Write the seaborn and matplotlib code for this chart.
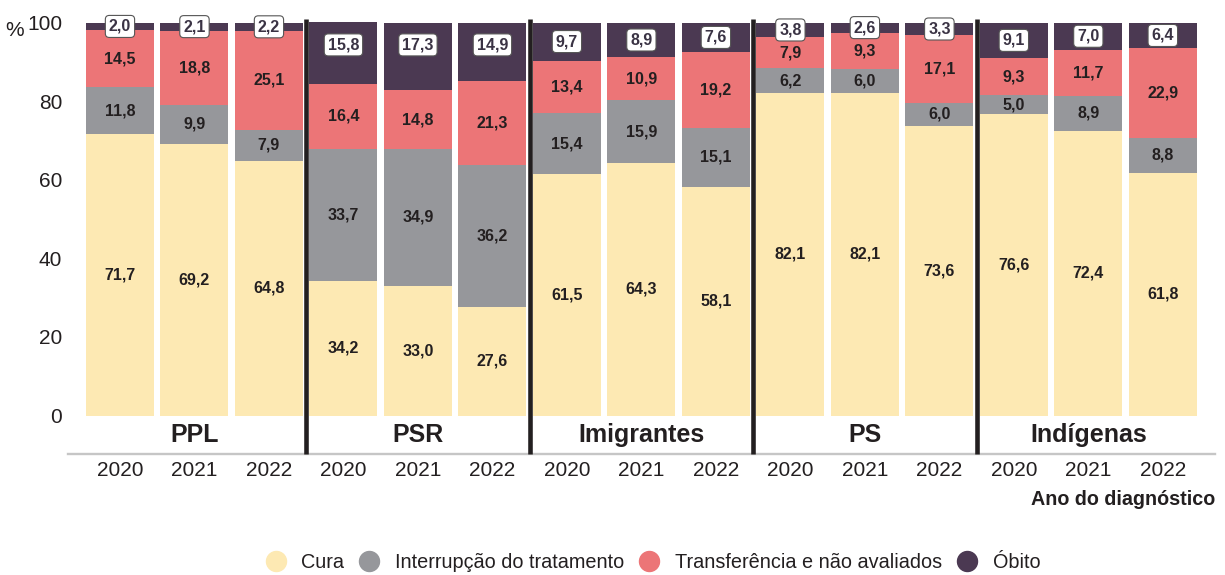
import pandas as pd
import numpy as np
import matplotlib
matplotlib.use('Agg')
import matplotlib.pyplot as plt
from matplotlib.lines import Line2D
import seaborn as sns

# data
groups = ['PPL', 'PSR', 'Imigrantes', 'PS', 'Indígenas']
years = ['2020', '2021', '2022']
cura = [71.7, 69.2, 64.8, 34.2, 33.0, 27.6, 61.5, 64.3, 58.1, 82.1, 82.1, 73.6, 76.6, 72.4, 61.8]
interrupcao = [11.8, 9.9, 7.9, 33.7, 34.9, 36.2, 15.4, 15.9, 15.1, 6.2, 6.0, 6.0, 5.0, 8.9, 8.8]
transferencia = [14.5, 18.8, 25.1, 16.4, 14.8, 21.3, 13.4, 10.9, 19.2, 7.9, 9.3, 17.1, 9.3, 11.7, 22.9]
obito = [2.0, 2.1, 2.2, 15.8, 17.3, 14.9, 9.7, 8.9, 7.6, 3.8, 2.6, 3.3, 9.1, 7.0, 6.4]

series = ['Cura', 'Interrupção do tratamento', 'Transferência e não avaliados', 'Óbito']
colors = ['#FDE9B3', '#96979B', '#EC7577', '#4B3952']

bars = [g + ' ' + y for g in groups for y in years]
df = pd.DataFrame({'bar': bars, series[0]: cura, series[1]: interrupcao,
                   series[2]: transferencia, series[3]: obito})

sns.set_theme(style='white')
plt.rcParams['font.family'] = ['Liberation Sans', 'DejaVu Sans']
txt_col = '#231F20'

fig = plt.figure(figsize=(12.25, 5.75), dpi=100)
ax = fig.add_axes([0.0555, 0.2104, 0.9363, 0.7573])

# stacked bars: draw cumulative totals from top to bottom
cum = df[series].cumsum(axis=1)
for s, c in reversed(list(zip(series, colors))):
    sns.barplot(x=df['bar'], y=cum[s], order=bars, color=c, saturation=1,
                width=0.913, errorbar=None, ax=ax, linewidth=0)

# segment labels
for i in range(len(bars)):
    base = 0
    for k, s in enumerate(series):
        v = df[s][i]
        y = base + v / 2
        lab = f'{v:.1f}'.replace('.', ',')
        if k == 3:
            ax.text(i, max(y, 94.3), lab, ha='center', va='center', color='#3A3344',
                    weight='bold', fontsize=11.5,
                    bbox=dict(boxstyle='round,pad=0.22,rounding_size=0.25', fc='white',
                              ec='#555555', lw=0.8), zorder=5)
        else:
            ax.text(i, y, lab, ha='center', va='center', color=txt_col,
                    weight='bold', fontsize=11.5, zorder=5)
        base += v

# separators between groups
for xs in [2.5, 5.5, 8.5, 11.5]:
    ax.plot([xs, xs], [-9.8, 101], color=txt_col, lw=3.3, clip_on=False, zorder=6,
            solid_capstyle='butt')

# group labels
for j, g in enumerate(groups):
    ax.text(j * 3 + 1, -5.0, g, ha='center', va='center', color=txt_col,
            weight='bold', fontsize=18)

ax.set_xlim(-0.698, 14.70)
ax.set_ylim(-9.8, 101)
ax.set_yticks([0, 20, 40, 60, 80, 100])
ax.set_yticklabels(['0', '20', '40', '60', '80', '100'], fontsize=15, color=txt_col)
ax.set_xticks(range(len(bars)))
ax.set_xticklabels(years * len(groups), fontsize=15, color=txt_col)
ax.tick_params(axis='y', length=0, pad=4.3)
ax.tick_params(axis='x', length=0, pad=5)
ax.set_xlabel('')
ax.set_ylabel('')
for sp in ['top', 'right', 'left']:
    ax.spines[sp].set_visible(False)
ax.spines['bottom'].set_color('#C6C6C6')
ax.spines['bottom'].set_linewidth(1.7)

fig.text(0.004, 0.937, '%', fontsize=15, color=txt_col, va='baseline', ha='left')
fig.text(0.9918, 0.131, 'Ano do diagnóstico', ha='right', va='center', color=txt_col,
         weight='bold', fontsize=14.2)

handles = [Line2D([0], [0], marker='o', ls='', markersize=14.4, markerfacecolor=c,
                  markeredgecolor=c) for c in colors]
fig.legend(handles, series, loc='center', bbox_to_anchor=(0.533, 0.021), ncol=4,
           frameon=False, fontsize=14.3, handlelength=1.0, handletextpad=0.8,
           columnspacing=0.75, labelcolor=txt_col)

fig.savefig('out.png', dpi=100)
